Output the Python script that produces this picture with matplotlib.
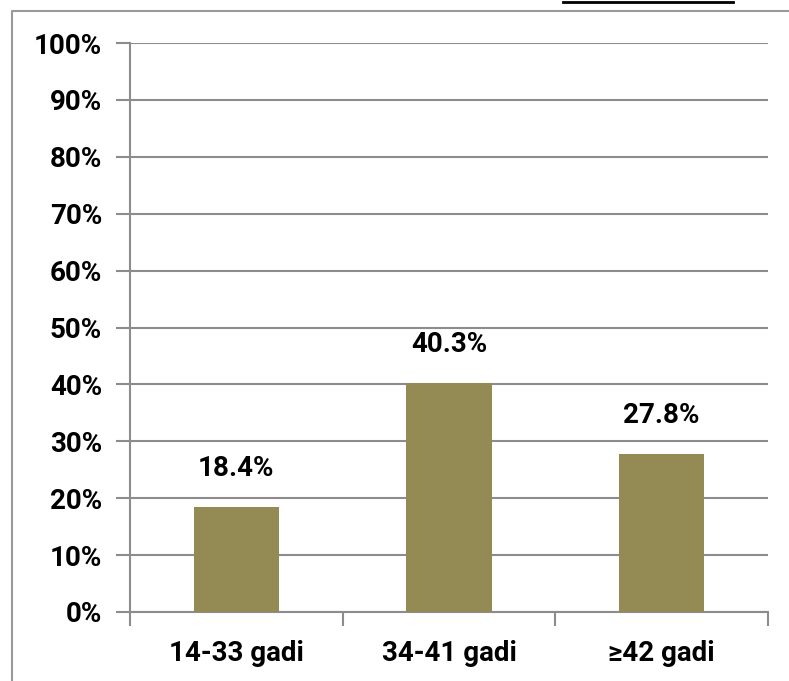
import numpy as np
import matplotlib.pyplot as plt
from matplotlib.lines import Line2D

# Age groups and their share of respondents
categories = ["14-33 gadi", "34-41 gadi", "\u226542 gadi"]
shares = [18.4, 40.3, 27.8]
value_labels = ["18.4%", "40.3%", "27.8%"]
y_ticks = list(range(0, 101, 10))

bar_col = "#948A54"
grid_col = "#8C8C8C"

plt.rcParams['font.family'] = ['Roboto', 'DejaVu Sans']

fig = plt.figure(figsize=(7.89, 6.81), dpi=100)
W, H = 789, 681
ax = fig.add_axes([130 / W, (H - 612) / H, (768 - 130) / W, (612 - 43) / H])

x = np.arange(len(categories))
ax.bar(x, shares, width=0.4, color=bar_col, zorder=3)

for xi, v, lab in zip(x, shares, value_labels):
    ax.annotate(lab, (xi, v), xytext=(0, 18), textcoords="offset points",
                ha="center", va="bottom", fontsize=20, fontweight="bold")

ax.set_xlim(-0.5, len(categories) - 0.5)
ax.set_ylim(0, 100)
ax.set_yticks(y_ticks)
ax.set_yticklabels([f"{t}%" for t in y_ticks], fontsize=20, fontweight="bold")
ax.yaxis.grid(True, color=grid_col, linewidth=1.5, zorder=0)

# category labels at the centres, tick marks at the boundaries
ax.set_xticks(x)
ax.set_xticklabels(categories, fontsize=20, fontweight="bold")
ax.tick_params(axis="x", length=0, pad=20)
ax.set_xticks(np.arange(len(categories) + 1) - 0.5, minor=True)
ax.tick_params(axis="x", which="minor", length=10, width=1.5, color=grid_col, direction="out")
ax.tick_params(axis="y", length=10, width=1.5, color=grid_col, direction="out", pad=10)

for side in ["top", "right"]:
    ax.spines[side].set_visible(False)
for side in ["left", "bottom"]:
    ax.spines[side].set_color(grid_col)
    ax.spines[side].set_linewidth(1.5)

# outer frame around the chart
fig.add_artist(Line2D([12 / W, 12 / W, 1.0], [0.0, 1 - 11 / H, 1 - 11 / H],
                      transform=fig.transFigure, color="#999999", linewidth=1.5))
# underline of the caption running above the frame
fig.add_artist(Line2D([563 / W, 733 / W], [1 - 2 / H, 1 - 2 / H],
                      transform=fig.transFigure, color="black", linewidth=2))

fig.savefig("out.png", dpi=100)
